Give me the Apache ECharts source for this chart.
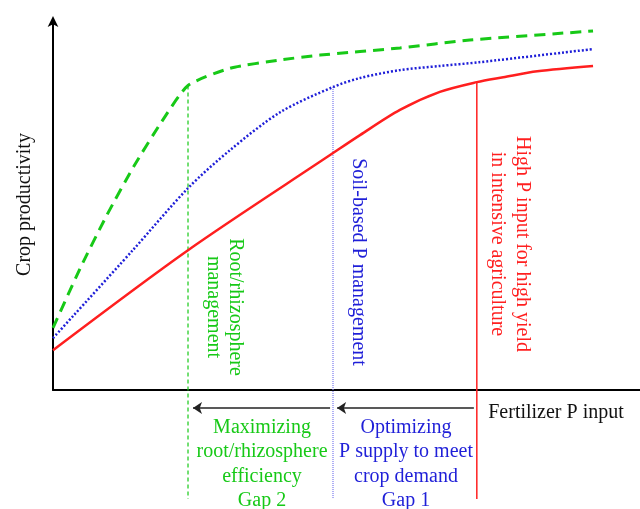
<!DOCTYPE html>
<html style="height: 100%">
<head>
    <meta charset="utf-8">
    <script type="text/javascript" src="https://cdn.jsdelivr.net/npm/echarts@6/dist/echarts.min.js"></script>
</head>
<body style="height: 100%; margin: 0">
<div id="container" style="height: 509px;width: 640px"></div>
<script type="text/javascript">
    // curves: [fertilizer P input, crop productivity] (arbitrary units)
    var rootCurve = [[0, 16.5], [4.6, 32.3], [9.2, 46.6], [13.8, 59.6], [18.4, 71.1], [23.0, 81.0],
        [30.15, 85.6], [38.7, 87.8], [45.5, 89.1], [59.1, 91.0], [71.0, 93.1], [92.0, 95.5]];
    var soilCurve = [[0, 13.8], [13.6, 37.2], [23.0, 53.7], [30.15, 63.8], [38.7, 73.9], [47.7, 80.6],
        [52.3, 83.0], [59.1, 85.1], [65.9, 86.2], [72.6, 87.2], [92.0, 90.7]];
    var highCurve = [[0, 10.6], [23.0, 37.2], [47.2, 62.5], [52.3, 67.8], [59.1, 74.5], [65.9, 79.3],
        [72.2, 81.9], [76.7, 83.2], [82.5, 84.8], [92.0, 86.2]];
    // vertical drop lines: x, top, bottom
    var rootDrop = [[23.0, 81.0], [23.0, -29]];
    var soilDrop = [[47.7, 80.6], [47.7, -29]];
    var highDrop = [[72.2, 81.9], [72.2, -29]];
    // gap arrows (from -> to)
    var gap2Arrow = [[47.2, -4.8], [23.85, -4.8]];
    var gap1Arrow = [[71.7, -4.8], [48.4, -4.8]];

    var GREEN = '#17c917', BLUE = '#1f1fd8', RED = '#ff1f1f';
    var FONT = 'Liberation Serif';

    var dom = document.getElementById("container");
    var myChart = echarts.init(dom);

    function txt(text, x, y, color, rot, lh) {
        return {
            type: 'text', x: x, y: y, rotation: rot || 0,
            style: {
                text: text, fill: color, font: '20px "' + FONT + '"',
                textAlign: 'center', textVerticalAlign: 'middle', lineHeight: lh || 24.5
            }
        };
    }

    var option = {
        animation: false,
        grid: {left: 53, right: 0, top: 19, bottom: 119, outerBoundsMode: 'none', containLabel: false},
        xAxis: {
            type: 'value', min: 0, max: 100,
            axisLine: {lineStyle: {color: '#000', width: 2}},
            axisTick: {show: false}, axisLabel: {show: false}, splitLine: {show: false}
        },
        yAxis: {
            type: 'value', min: 0, max: 98.7,
            name: 'Crop productivity', nameLocation: 'middle', nameGap: 18,
            nameTextStyle: {fontFamily: FONT, fontSize: 20, color: '#111'},
            axisLine: {
                show: true, symbol: ['none', 'arrow'], symbolSize: [8, 11], symbolOffset: [0, 3],
                lineStyle: {color: '#000', width: 2}
            },
            axisTick: {show: false}, axisLabel: {show: false}, splitLine: {show: false}
        },
        series: [
            {type: 'line', data: rootDrop, symbol: 'none', clip: false,
                lineStyle: {color: GREEN, width: 1.2, type: [4, 3]}},
            {type: 'line', data: soilDrop, symbol: 'none', clip: false,
                lineStyle: {color: '#8080f0', width: 1.3, type: [1, 1]}},
            {type: 'line', data: highDrop, symbol: 'none', clip: false,
                lineStyle: {color: RED, width: 1.5}},
            {type: 'line', data: rootCurve, symbol: 'none', smooth: 0.2,
                lineStyle: {color: GREEN, width: 3, type: [11, 7]}},
            {type: 'line', data: soilCurve, symbol: 'none', smooth: 0.3,
                lineStyle: {color: BLUE, width: 2.5, type: [2, 2]}},
            {type: 'line', data: highCurve, symbol: 'none', smooth: 0.3,
                lineStyle: {color: RED, width: 2.5}},
            {type: 'lines', coordinateSystem: 'cartesian2d', clip: false,
                symbol: ['none', 'arrow'], symbolSize: 9,
                lineStyle: {color: '#222', width: 1.5, opacity: 1},
                data: [{coords: gap2Arrow}, {coords: gap1Arrow}]}
        ],
        graphic: [
            txt('Root/rhizosphere\nmanagement', 224, 307, GREEN, -Math.PI / 2, 22),
            txt('Soil-based P management', 358, 262, BLUE, -Math.PI / 2),
            txt('High P input for high yield\nin intensive agriculture', 510, 244, RED, -Math.PI / 2, 25),
            txt('Fertilizer P input', 556, 413, '#111'),
            txt('Maximizing\nroot/rhizosphere\nefficiency\nGap 2', 262, 464, GREEN),
            txt('Optimizing\nP supply to meet\ncrop demand\nGap 1', 406, 464, BLUE)
        ]
    };
    myChart.setOption(option);
</script>
</body>
</html>
